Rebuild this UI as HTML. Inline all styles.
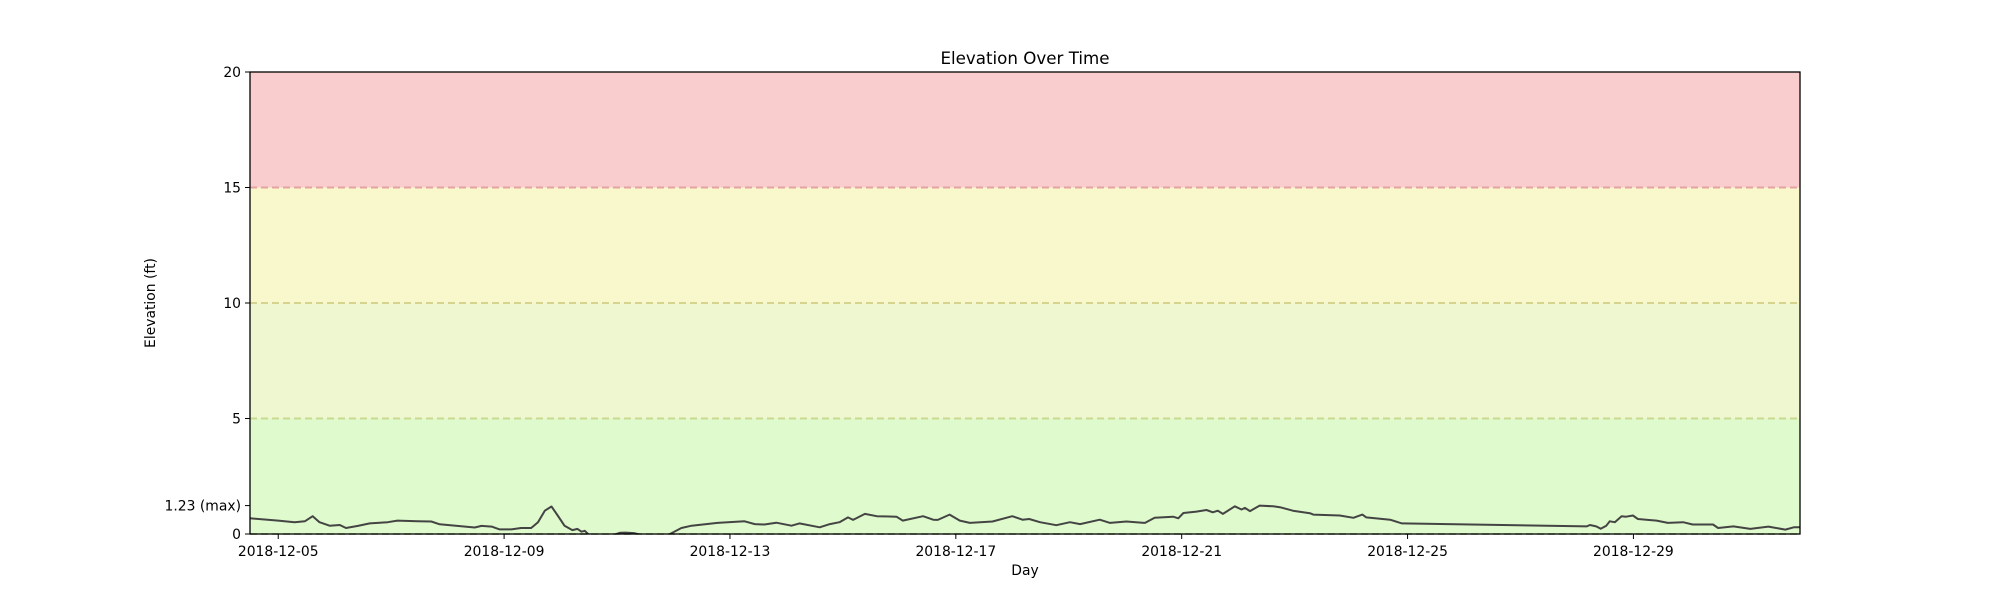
<!DOCTYPE html>
<html><head><meta charset="utf-8"><style>
html,body{margin:0;padding:0;background:#fff;}
svg{display:block;font-family:"DejaVu Sans","Liberation Sans",sans-serif;}
</style></head><body>
<svg id="chart" width="2000" height="600" viewBox="0 0 2000 600" xmlns="http://www.w3.org/2000/svg"></svg>
<script>
// Data: days since 2018-12-05 00:00, elevation (ft)
const dayOffsets = [-0.5,0,0.29,0.47,0.61,0.73,0.91,1.09,1.2,1.41,1.62,1.94,2.11,2.47,2.71,2.86,3.17,3.48,3.6,3.78,3.92,4.13,4.3,4.48,4.6,4.72,4.84,4.95,5.07,5.21,5.3,5.37,5.43,5.5,5.6,5.96,6.05,6.15,6.3,6.4,6.5,6.93,7.14,7.32,7.78,8.26,8.44,8.61,
8.82,9.09,9.23,9.59,9.77,9.94,10.09,10.18,10.39,10.6,10.95,11.06,11.42,11.6,11.68,11.89,12.07,12.25,12.65,13.0,13.18,13.3,13.49,13.78,14.02,14.2,14.55,14.73,15.02,15.35,15.52,15.85,15.94,16.03,16.26,16.44,16.55,16.64,16.73,16.94,17.06,17.12,17.21,17.38,17.62,17.74,
17.97,18.27,18.33,18.8,19.04,19.2,19.27,19.69,19.9,23.17,23.23,23.34,23.42,23.52,23.58,23.67,23.79,23.87,23.99,24.08,24.41,24.61,24.88,25.05,25.41,25.5,25.77,26.07,26.39,26.69,26.84,26.95];
const elevations = [0.68,0.58,0.51,0.55,0.77,0.51,0.36,0.39,0.26,0.35,0.46,0.51,0.58,0.55,0.54,0.42,0.35,0.28,0.35,0.32,0.2,0.2,0.26,0.26,0.51,1.01,1.19,0.8,0.36,0.17,0.22,0.1,0.14,-0.03,-0.3,-0.02,0.05,0.06,0.04,-0.02,-0.3,-0.01,0.26,0.36,0.48,0.55,0.43,0.41,
0.49,0.36,0.46,0.29,0.43,0.51,0.72,0.61,0.87,0.77,0.75,0.58,0.77,0.62,0.61,0.84,0.58,0.48,0.54,0.77,0.62,0.65,0.51,0.38,0.51,0.43,0.62,0.48,0.54,0.48,0.7,0.75,0.68,0.91,0.97,1.04,0.94,1.01,0.87,1.2,1.06,1.13,0.99,1.23,1.2,1.16,
1.01,0.9,0.84,0.8,0.7,0.84,0.72,0.62,0.46,0.33,0.39,0.33,0.23,0.36,0.55,0.51,0.77,0.75,0.8,0.65,0.58,0.48,0.51,0.41,0.41,0.26,0.33,0.22,0.32,0.19,0.29,0.29];
const yTicks = [0,5,10,15,20];
const xTickLabels = ["2018-12-05","2018-12-09","2018-12-13","2018-12-17","2018-12-21","2018-12-25","2018-12-29"];
const xTickDays = [0,4,8,12,16,20,24];
const bandEdges = [0,5,10,15,20];
const bandColors = ["#dffacc","#eef7cf","#f9f8cc","#f9cccd"];
const thresholdValues = [0,5,10,15];
const thresholdColors = ["#b8c8a0","#cbd98f","#d6d38f","#e3a3a3"];
const maxValue = 1.23;

const NS="http://www.w3.org/2000/svg";
const svg=document.getElementById('chart');
const L=250,R=1800,T=72,B=534;
const dMin=-0.5,dMax=26.95;
const xs=d=>L+(d-dMin)/(dMax-dMin)*(R-L);
const ys=v=>B-(v/20)*(B-T);
function mk(tag,attrs,parent){const e=document.createElementNS(NS,tag);for(const k in attrs)e.setAttribute(k,attrs[k]);(parent||svg).appendChild(e);return e;}

const defs=mk('defs',{});
const cp=mk('clipPath',{id:'plotclip'},defs);
mk('rect',{x:L,y:T,width:R-L,height:B-T},cp);

for(let i=0;i<bandColors.length;i++){
  const r=mk('rect',{x:L,y:ys(bandEdges[i+1]),width:R-L,height:ys(bandEdges[i])-ys(bandEdges[i+1]),fill:bandColors[i]});
  
  
}
for(let i=0;i<thresholdValues.length;i++){
  const l=mk('line',{x1:L,x2:R,y1:ys(thresholdValues[i]),y2:ys(thresholdValues[i]),stroke:thresholdColors[i],'stroke-width':2,'stroke-dasharray':'7,4'});
  
  
}
let dstr='';
dayOffsets.forEach((d,i)=>{dstr+=(i?'L':'M')+xs(d).toFixed(1)+','+ys(elevations[i]).toFixed(1);});
const line=mk('path',{d:dstr,fill:'none',stroke:'#444','stroke-width':2,'stroke-linejoin':'round','clip-path':'url(#plotclip)'});



const frame=mk('rect',{x:L,y:T,width:R-L,height:B-T,fill:'none',stroke:'#000','stroke-width':1.3});



const yt=yTicks.map(v=>({v,l:String(v)})).concat([{v:maxValue,l:maxValue+' (max)'}]);
yt.forEach(t=>{
  mk('line',{x1:L-5,x2:L,y1:ys(t.v),y2:ys(t.v),stroke:'#000','stroke-width':1});
  const tx=mk('text',{x:L-9,y:ys(t.v)+5,'text-anchor':'end','font-size':13.9,fill:'#000'});
  tx.textContent=t.l;
  
  
});
xTickDays.forEach((d,i)=>{
  mk('line',{x1:xs(d),x2:xs(d),y1:B,y2:B+5,stroke:'#000','stroke-width':1});
  const tx=mk('text',{x:xs(d),y:B+22,'text-anchor':'middle','font-size':13.9,fill:'#000'});
  tx.textContent=xTickLabels[i];
  
  
});
const title=mk('text',{x:(L+R)/2,y:64,'text-anchor':'middle','font-size':16.7,fill:'#000'});
title.textContent='Elevation Over Time';


const xl=mk('text',{x:(L+R)/2,y:575,'text-anchor':'middle','font-size':13.9,fill:'#000'});
xl.textContent='Day';


const yl=mk('text',{x:0,y:0,'text-anchor':'middle','font-size':13.9,fill:'#000',transform:'translate(155,'+((T+B)/2)+') rotate(-90)'});
yl.textContent='Elevation (ft)';


</script>
</body></html>
